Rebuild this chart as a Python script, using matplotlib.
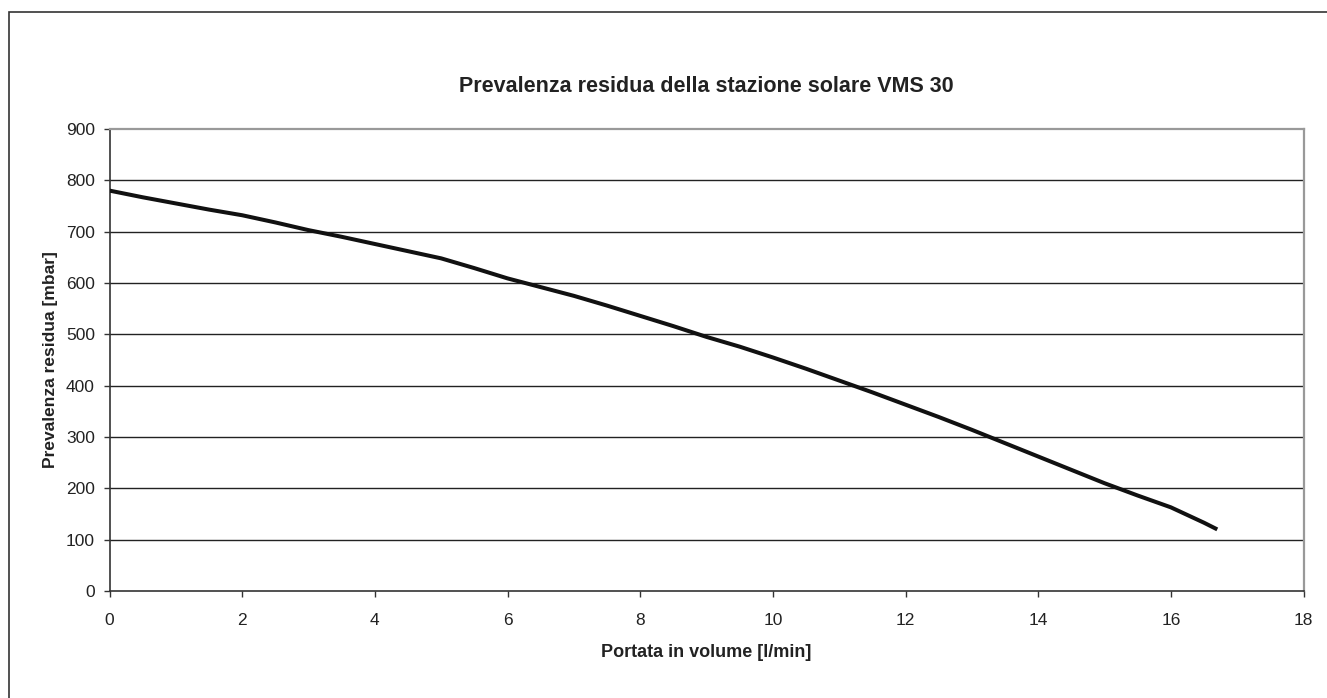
import matplotlib
matplotlib.use("Agg")
import matplotlib.pyplot as plt
from matplotlib.patches import Rectangle

plt.rcParams['font.family'] = ['Liberation Sans', 'DejaVu Sans']

title = "Prevalenza residua della stazione solare VMS 30"
xlabel = "Portata in volume [l/min]"
ylabel = "Prevalenza residua [mbar]"

flow = [0, 0.5, 1, 1.5, 2, 2.5, 3, 3.5, 4, 4.5, 5, 5.5, 6, 6.5, 7, 7.5, 8, 8.5,
        9, 9.5, 10, 10.5, 11, 11.5, 12, 12.5, 13, 13.5, 14, 14.5, 15, 15.5, 16, 16.5, 16.7]
head = [780, 767, 755, 743, 732, 718, 703, 690, 676, 662, 648, 629, 609, 592, 575, 556, 536, 516,
        495, 476, 455, 433, 410, 387, 363, 339, 314, 288, 262, 236, 210, 186, 163, 133, 120]

xticks = [0, 2, 4, 6, 8, 10, 12, 14, 16, 18]
yticks = [0, 100, 200, 300, 400, 500, 600, 700, 800, 900]

W, H = 1327, 698
fig = plt.figure(figsize=(W / 100, H / 100), dpi=100)

# outer frame
fig.patches.append(Rectangle((8.5 / W, -0.05), 1.2, 1 - 11.5 / H + 0.05,
                             transform=fig.transFigure, fill=False,
                             edgecolor='#333333', linewidth=1.2))

ax = fig.add_axes([109.5 / W, 1 - 591 / H, (1303.5 - 109.5) / W, (591 - 129) / H])
ax.set_xlim(0, 18)
ax.set_ylim(0, 900)
ax.set_xticks(xticks)
ax.set_yticks(yticks)
for y in yticks[1:-1]:
    ax.axhline(y, color='#222222', linewidth=1.0, zorder=1)

ax.plot(flow, head, color='#111111', linewidth=2.9, solid_capstyle='butt',
        solid_joinstyle='round', zorder=3)

for s in ['left', 'bottom']:
    ax.spines[s].set_color('#333333')
    ax.spines[s].set_linewidth(1.2)
for s in ['top', 'right']:
    ax.spines[s].set_color('#999999')
    ax.spines[s].set_linewidth(1.6)

ax.tick_params(axis='both', direction='out', length=4.5, width=1.0, color='#333333',
               labelsize=12.5, labelcolor='#222222')
ax.tick_params(axis='x', pad=11)
ax.tick_params(axis='y', pad=6)

fig.text((109.5 + 1303.5) / 2 / W, 1 - 87 / H, title, ha='center', va='center',
         fontsize=15.5, fontweight='bold', color='#222222')
ax.set_xlabel(xlabel, fontsize=13, fontweight='bold', color='#222222', labelpad=12)
ax.set_ylabel(ylabel, fontsize=12.5, fontweight='bold', color='#222222', labelpad=6)

fig.savefig("out.png", dpi=100)
